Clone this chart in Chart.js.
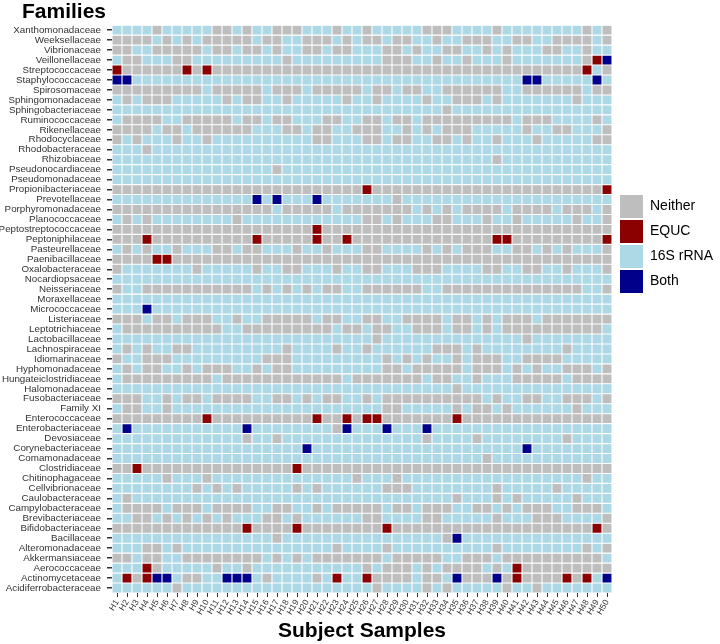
<!DOCTYPE html>
<html>
<head>
<meta charset="utf-8">
<script src="https://cdn.jsdelivr.net/npm/chart.js@4.4.1/dist/chart.umd.min.js"></script>
<style>
html,body{margin:0;padding:0;background:#ffffff;}
#wrap{width:720px;height:644px;}
</style>
</head>
<body>
<div id="wrap"><canvas id="c" width="720" height="644"></canvas></div>
<script>
// ---- data ----
const families = [
  'Xanthomonadaceae','Weeksellaceae','Vibrionaceae','Veillonellaceae','Streptococcaceae',
  'Staphylococcaceae','Spirosomaceae','Sphingomonadaceae','Sphingobacteriaceae','Ruminococcaceae',
  'Rikenellaceae','Rhodocyclaceae','Rhodobacteraceae','Rhizobiaceae','Pseudonocardiaceae',
  'Pseudomonadaceae','Propionibacteriaceae','Prevotellaceae','Porphyromonadaceae','Planococcaceae',
  'Peptostreptococcaceae','Peptoniphilaceae','Pasteurellaceae','Paenibacillaceae','Oxalobacteraceae',
  'Nocardiopsaceae','Neisseriaceae','Moraxellaceae','Micrococcaceae','Listeriaceae',
  'Leptotrichiaceae','Lactobacillaceae','Lachnospiraceae','Idiomarinaceae','Hyphomonadaceae',
  'Hungateiclostridiaceae','Halomonadaceae','Fusobacteriaceae','Family XI','Enterococcaceae',
  'Enterobacteriaceae','Devosiaceae','Corynebacteriaceae','Comamonadaceae','Clostridiaceae',
  'Chitinophagaceae','Cellvibrionaceae','Caulobacteraceae','Campylobacteraceae','Brevibacteriaceae',
  'Bifidobacteriaceae','Bacillaceae','Alteromonadaceae','Akkermansiaceae','Aerococcaceae',
  'Actinomycetaceae','Acidiferrobacteraceae'
];

const samples = [
  'H1','H2','H3','H4','H5','H6','H7','H8','H9','H10',
  'H11','H12','H13','H14','H15','H16','H17','H18','H19','H20',
  'H21','H22','H23','H24','H25','H26','H27','H28','H29','H30',
  'H31','H32','H33','H34','H35','H36','H37','H38','H39','H40',
  'H41','H42','H43','H44','H45','H46','H47','H48','H49','H50'
];

const categories = ['Neither','EQUC','16S rRNA','Both'];
const categoryCodes = ['N','E','R','B'];
const categoryColors = ['#BEBEBE','#8B0000','#ADD8E6','#00008B'];

// one string per family (top to bottom), one letter per sample H1..H50
// N = Neither, E = EQUC, R = 16S rRNA, B = Both
const cells = [
  'RRRRN RRRRR NNRNR RNNNR RRNRR  NRRRR RNNNR RRRNR RRRRR RRNRN',
  'NNNNR NRNRN NNNNR NNRRN NNRNR  NNRNN RRNRR NNNRR NNRRN NNNRN',
  'NNRRN NNNNR NNRNN RNRRN NRNNR  RRNNR NRRNN RRNRN RRRNN RRNRR',
  'RNNRR RNNRR RRRRR RRNRR RRRRR  RRNNN RRNRR NRRRN RRRRR RRNEB',
  'ENNNN NNENE NNNNN NNNNN NNNNN  NNNNN NNNNN NNNNN NNNNN NNERN',
  'BBRRR RRRRR RRRRR RRRRR RRRRR  RRRRR RRRRR RRRRR RBBRR RRRBR',
  'NNNNN NNNNR NNNNN RNNNR NNNNN  RNNRN NRRNN NNNNR RNNNN NNRNN',
  'RNRNN NRRRR RNRNN RRNRR RRRNR  RNRRR RNRRN NNRNR RRRRR RNRRR',
  'RRRRR RRRRR RRRRR RRRRR RRRRR  RRRRR RRRNR RRRRR RRRRR RRRRR',
  'RNNNN RRNNN NNRNN RNNRR RNNRR  NNRNN RNNNN NNNNN RNNNR RRRNR',
  'NNNNR NNRNN NNNNR RRNNR NNRRN  NNRRN RNRNN NRRRR RNRRN NRRRN',
  'NRNRR RNRRN RRRRR RRRRR NNRRR  NNRNN RRNNR NRRNR RRNRR RRRNN',
  'RRRNR RRRRR RRRRR RRRRR RRRRR  RRRRR RRRRR RRRRR RRRRR RRRRR',
  'RRRRR RRRRR RRRRR RRRRR RRRRR  RRRRR RRRRR RRRNR RRRRR RRRRR',
  'RRRRR RRRRR RRRRR RNRRR RRRRR  RRRRR RRRRR RRRRR RRRRR RRRRR',
  'RRRRR RRRRR RRRRR RRRRR RRRRR  RRRRR RRRRR RRRRR RRRRR RRRRR',
  'NNNNN NNNNN NNNNN NNNNN NNNNN  ENNNN NNNNN NNNNN NNNNN NNNNE',
  'RRRRR RRRRR RRRRB RBRRR BRRRR  RRRNR RRRRR RRRRR RRRRR RRRRR',
  'NNNNN NNNNN NNNNN NRNNN NNRNN  NNNNN RNRNR NNNNR NNNNR NNNRN',
  'RNRNR RRRRR RRNRR RRRRR RRRRR  NNRNR RRNNR RRNRR NRRRR RNRRN',
  'NNNNN NNNNN NNNNN NNNNN ENNNN  NNNNN NNNNN NNNNN NNNNN NNNNN',
  'NNNEN NNNNN NNNNE NNNNN ENNEN  NNNNN NNNNN NNNEE NNNNN NNNNE',
  'RNRNR RNRRR NNRNN RRRNR RNRRR  NNRRR RNRNR NNNRR NNRNR NRRRN',
  'NNNNE ENNNN NNNNN NNNNN NNNNN  NNNNN NNNNN NNNNN NNNNN NNNNN',
  'NRRRR RRRNR RRRRN RRNNR RRNRR  NNRRR NNNRR RRNNR RNNRR NRRRN',
  'RRRRR RRRRR RRRRR RRRRR RRRRR  RRRRR RRRRR RRRRR RRRRR RRRRR',
  'NRRNN NNNNN NNNNR NRNRN RNNRR  NNNNN NRRNN NNNNN NNNNN NNRRN',
  'RRRRR RRRRR RRRRR RRRRR RRRRR  RRRRR RRRRR RRRRR RRRRR RRRRR',
  'RRRBR RRRRR RRRRR RRRRR RRRRR  RRRRR RRRRR RRRRR RRRRR RRRRR',
  'NNNRN NRNNN RRNRR NNNNN RNNRR  NNRRN NNNRN NRNRN NNRNN NNNNN',
  'RNNNN NNNNN NRRNN NNNNN NNRNN  RNNRR NNNRN NRNRN NNNNN NNNNR',
  'RRRRR RRRRR RRRRR RRRRR RRRRR  RNRRR RRRRR RRRRR RNRRR RRRRR',
  'RNRNR RNNRR RRRRR RRNRR RRNRR  NRRRR RRNNN RNRRR RRRRR NRRRR',
  'NRRNN NRRRR RRRRR NNNRR RRRRR  RRNRN RNRRN RNNNR RNNNN RRRRR',
  'RNRNN RRNRN NNRRN RNNRR RRRRR  RRNNR NNNNN RNNNR NRNRR NNNRN',
  'RNNNN NNNNN RNNNN NNNNN NNNRN  NNNNN NRNNR RNRRR NNNNN RNNNN',
  'RRRRR RRRRR RRRRR RRRRR RRRRR  RRRRR RRRRN RRRRR RRRRR RRRRR',
  'NNNRR NRNNR NNNNR RNNRN RNNRR  NRNNN NNNNN NNRNR RNNRR NNNRN',
  'RNNRR NRRRR RRRRR RRRRR RRRRR  RRNNR RRRRN RNNRN RRRRR RNRRR',
  'NNNNN NNNNE NNNNN NNNNN ENNEN  EENNN NNNNE NNNNN NNNNN NNNNN',
  'RBRRR RRRRR RRRBR RRRRR RRNBR  RRBRR RBRRR RRRRR RRRRR RRRRR',
  'RRRRR RRRRR RRRNR RNRRR RRRRR  RRRRR RNRRR RNRRR RRRRR NRRRR',
  'RRRRR RRRRR RRRRR RRRRB RRRRR  RRRRR RRRRR RRRRR RBRRR RRRRR',
  'RRRRR RRRRR RRRRR RRRRR RRRRR  RRRRR RRRRR RRNRR RRRRR RRRRR',
  'NNENN NNNNN NNNNN NNNEN NNNNN  NNNNN NNNNN NNNNN NNNNN NNNNN',
  'RRRRR NRRRN RRRRR RRRRR RRRRN  RRRNR RRRRR RRRRR RRRRR RRNRR',
  'RRRRR RRRNR NRNRR RRRNR NRRRR  RRNNN RRRRR RRRNR RRRRN RRRRR',
  'RNRRR RRRRR RRRRR RRRRR RRRRR  RRRRR RRRRN RRRNR NRRRR RNRRR',
  'RNNNN RNNNR NNNNR RNNRR NRNNN  NNRNN RNNNR RNNRN RNNNR RNNNR',
  'RRNNR NRNRN RNRRR NNRNR RRRRR  NNRRR RNNRR RRRNR RRNNN RRRRN',
  'NNNNN NNNNN NNNEN NNNEN NNNNN  NNENN NNNNN NNNNN NNNNN NNNEN',
  'RRRRR RRRRR RRRRR RNRRR RRRRR  RRRRR RRRNB RRRRR RRRRR RRRRR',
  'RRRNN RNRRR RRRRR RRRRR RRNRR  RRNRR RRRRR RRRNR RRRRR RRNRN',
  'NNRNN RRNNN NNNNN RNRNR NNNNN  NNRNN NNNRR NNNRN NNNNN NNNNR',
  'RRREN RRRRR NRRNR RRRRR RRRRR  NRNNN RNRNN NNRNR ENNNN NNNNN',
  'RENEB BRNNR RBBBR NRRRR NRERR  ENNNN RNNRB NNNBN ENNNN ENERB',
  'RRRRR RNRRR RRRRR RRRRR RRRRR  RNRRR RNRNR RRRRN RRNRR RRRRR'
];

// ---- chart ----
Chart.defaults.font.family = "'Liberation Sans', Arial, Helvetica, sans-serif";

const rowCodes = cells.map(s => s.replace(/\s+/g, ''));

const datasets = families.map((fam, r) => ({
  label: fam,
  data: samples.map(() => 1),
  backgroundColor: rowCodes[r].split('').map(ch => categoryColors[categoryCodes.indexOf(ch)]),
  borderColor: '#ffffff',
  borderWidth: 0.55,
  borderSkipped: false,
  inflateAmount: 0,
  categoryPercentage: 1.0,
  barPercentage: 1.0,
  stack: 'cells'
}));

// let the family labels use the whole left margin (the scale clips its labels to its own box)
const widenLabelArea = {
  id: 'widenLabelArea',
  afterLayout(chart) {
    const ys = chart.scales.y;
    ys.left = 0;
  }
};

new Chart(document.getElementById('c'), {
  type: 'bar',
  data: { labels: samples, datasets: datasets },
  plugins: [widenLabelArea],
  options: {
    responsive: false,
    animation: false,
    devicePixelRatio: 1,
    layout: { padding: { left: 22, right: 0, top: 0, bottom: 0 } },
    plugins: {
      tooltip: { enabled: false },
      title: {
        display: true,
        text: 'Families',
        align: 'start',
        color: '#000000',
        font: { size: 21, weight: 'bold' },
        padding: { top: 0, bottom: 0 }
      },
      legend: {
        display: true,
        position: 'right',
        align: 'start',
        maxWidth: 102,
        title: { display: true, text: '', font: { size: 1, lineHeight: 1 }, padding: { top: 192, bottom: 0 } },
        labels: {
          boxWidth: 23,
          boxHeight: 23,
          padding: 2,
          color: '#000000',
          font: { size: 14 },
          generateLabels: () => categories.map((c, i) => ({
            text: c,
            fillStyle: categoryColors[i],
            strokeStyle: '#ffffff',
            fontColor: '#000000',
            lineWidth: 0,
            hidden: false,
            index: i
          }))
        },
        onClick: () => {}
      }
    },
    scales: {
      x: {
        type: 'category',
        stacked: true,
        offset: true,
        border: { display: false },
        grid: { display: true, drawOnChartArea: false, drawTicks: true, offset: false, tickLength: 4, tickColor: '#333333', lineWidth: 1 },
        ticks: { autoSkip: false, maxRotation: 60, minRotation: 60, padding: 1, color: '#333333', font: { size: 8.5 } },
        title: { display: true, text: 'Subject Samples', color: '#000000', font: { size: 21, weight: 'bold' }, padding: { top: 0, bottom: 0 } },
        afterFit: s => { s.height = 51; }
      },
      y: {
        type: 'linear',
        stacked: true,
        reverse: true,
        min: 0,
        max: families.length,
        border: { display: false },
        grid: { display: true, drawOnChartArea: false, drawTicks: true, tickLength: 5, tickColor: '#333333', lineWidth: 1.5 },
        afterBuildTicks: ax => { ax.ticks = families.map((f, i) => ({ value: i + 0.5 })); },
        ticks: { autoSkip: false, padding: 6, color: '#333333', font: { size: 9.8 }, callback: (v, i) => families[i] },
        afterFit: s => { s.width = 90; }
      },
      gap: {
        type: 'linear',
        position: 'right',
        display: true,
        border: { display: false },
        grid: { display: false },
        ticks: { display: false },
        afterFit: s => { s.width = 6; }
      }
    }
  }
});
</script>
</body>
</html>
